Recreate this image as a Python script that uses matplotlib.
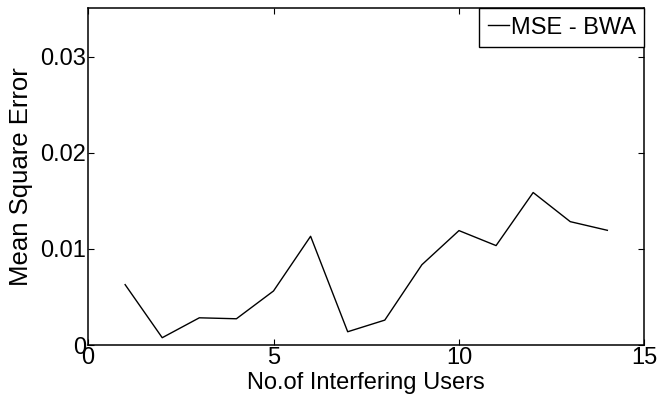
import matplotlib
matplotlib.use("Agg")
import matplotlib.pyplot as plt

plt.rcParams['font.family'] = ['Liberation Sans', 'DejaVu Sans']

users = [1, 2, 3, 4, 5, 6, 7, 8, 9, 10, 11, 12, 13, 14]
mse_bwa = [0.00628, 0.00076, 0.00283, 0.00273, 0.00562, 0.01131, 0.00138,
           0.00259, 0.00835, 0.01190, 0.01034, 0.01586, 0.01283, 0.01193]
x_ticks = [0, 5, 10, 15]
y_ticks = [0, 0.01, 0.02, 0.03]
y_tick_labels = ['0', '0.01', '0.02', '0.03']

fs = 17
fig = plt.figure(figsize=(6.72, 4.04), dpi=100)
ax = fig.add_axes([0.131, 0.146, 0.828, 0.833])

ax.plot(users, mse_bwa, color='black', linewidth=1.0, label='MSE - BWA')

ax.set_xlim(0, 15)
ax.set_ylim(0, 0.035)
ax.set_xticks(x_ticks)
ax.set_xticklabels([str(t) for t in x_ticks])
ax.set_yticks(y_ticks)
ax.set_yticklabels(y_tick_labels)
ax.tick_params(direction='in', length=4.5, width=0.8, top=True, right=True,
               labelsize=fs, pad=1.5)
for s in ax.spines.values():
    s.set_linewidth(1.1)

ax.set_xlabel('No.of Interfering Users', fontsize=fs, labelpad=2)
ax.set_ylabel('Mean Square Error', fontsize=18.5, labelpad=5)

leg = ax.legend(loc='upper right', fontsize=fs, frameon=True, fancybox=False,
                framealpha=1, edgecolor='black', borderaxespad=0,
                handlelength=0.9, handletextpad=0.1, borderpad=0.35)
leg.get_frame().set_linewidth(1.0)

fig.savefig('out.png', dpi=100)
